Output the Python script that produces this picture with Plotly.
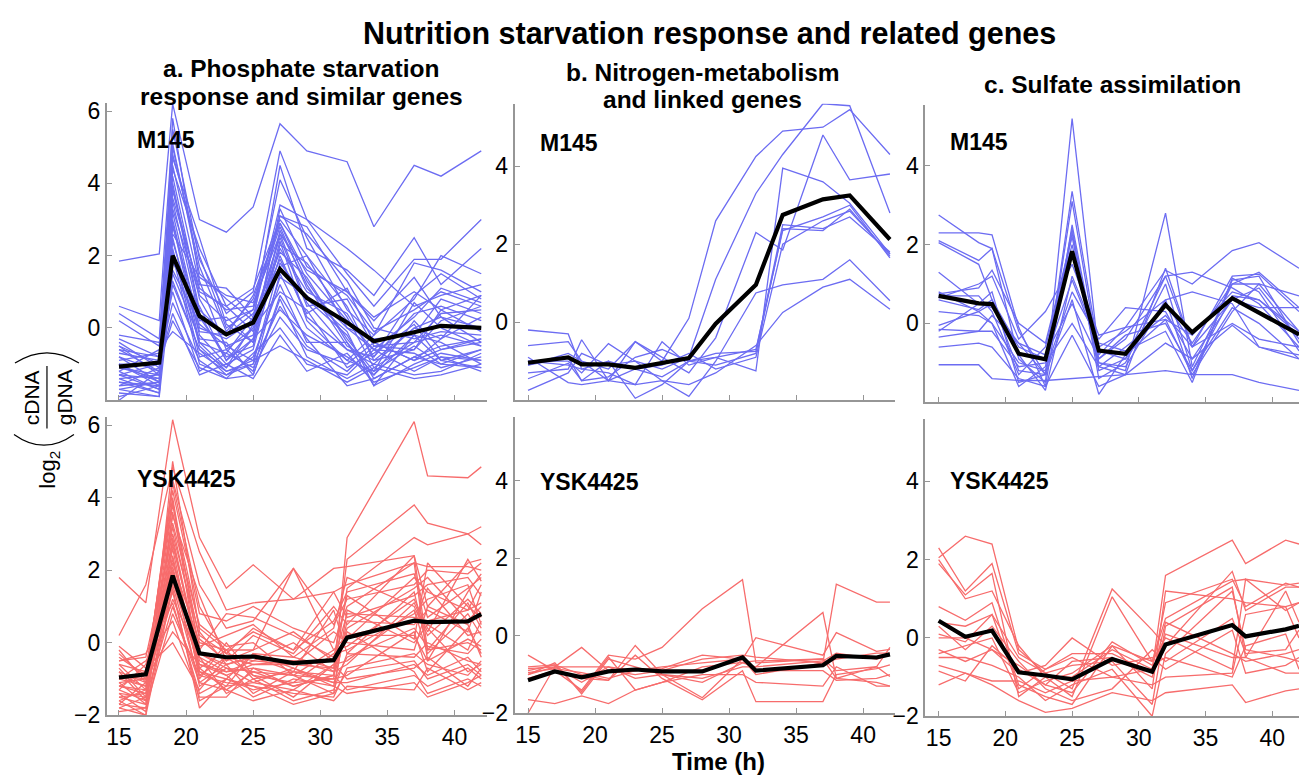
import plotly.graph_objects as go

W, H = 1299, 784

# ---------------- data ----------------
t_M145 = [15, 18, 19, 21, 23, 25, 27, 29, 32, 34, 37, 39, 42]
t_YSK = [15, 17, 19, 21, 23, 25, 28, 31, 32, 37, 38, 41, 42]
x_tick_vals = [15, 20, 25, 30, 35, 40]

# a. Phosphate starvation response - M145
a_M145 = [
    [1.85, 2.05, 6.2, 3.0, 2.65, 3.35, 5.65, 4.9, 4.6, 2.8, 4.5, 4.2, 4.9],
    [0.6, 0.2, 5.5, 1.9, 0.4, 1.0, 4.9, 3.0, 1.5, 0.6, 1.9, 1.9, 3.0],
    [0.4, -0.3, 5.1, 1.5, 0.8, 0.2, 4.5, 2.2, 1.6, 0.9, 2.5, 1.2, 2.2],
    [0.2, -0.5, 4.8, 2.0, 0.0, 0.5, 4.1, 2.5, 0.5, -0.2, 0.8, 2.0, 1.5],
    [-0.3, -0.8, 4.5, 1.2, 1.1, 0.3, 3.4, 3.0, 2.2, 1.6, 0.6, 0.9, 1.2],
    [-0.5, -1.0, 4.2, 0.8, -0.5, -0.2, 3.1, 2.8, 1.0, 0.3, 1.0, 0.5, 0.9],
    [-0.6, -1.2, 4.0, 0.5, -0.2, 0.9, 2.9, 1.5, 0.2, -0.6, 0.3, 1.1, 0.7],
    [-0.8, -1.5, 3.8, 1.0, 0.6, 1.1, 3.0, 2.0, 0.0, -0.3, -0.2, 0.8, 0.4],
    [-1.0, -1.6, 3.5, 0.3, -0.8, -0.5, 2.7, 1.2, -0.5, -0.9, 0.0, -0.3, 0.9],
    [-1.1, -1.3, 3.2, 0.0, -0.3, 0.2, 2.5, 0.6, 0.8, -0.5, -0.6, 0.2, 0.6],
    [-1.2, -1.7, 3.0, -0.2, -1.0, -0.6, 2.3, 1.8, 0.3, -1.1, -0.4, -0.2, -0.5],
    [-1.3, -1.4, 2.8, 0.2, 0.3, -0.4, 2.0, 0.3, -0.6, -0.8, 0.4, 0.6, 0.2],
    [-1.4, -1.8, 2.5, -0.5, -1.2, -1.0, 1.8, 0.8, -0.2, -1.4, -0.8, -0.5, -0.3],
    [-1.5, -1.6, 2.2, -0.8, -0.6, -1.2, 1.5, 0.0, -0.9, -1.2, -0.5, -1.0, -0.6],
    [-1.6, -1.1, 2.0, -1.0, -1.3, -0.8, 1.2, -0.4, -0.4, -1.6, -1.0, -0.7, -0.9],
    [-1.7, -1.5, 1.8, 0.6, -0.9, 0.0, 1.0, 0.5, -1.1, -0.7, 0.1, -0.9, -1.1],
    [-1.8, -1.9, 1.5, -0.3, -0.4, -1.3, 0.8, -0.8, -1.4, -1.0, -1.3, -1.2, -0.7],
    [-2.0, -1.2, 1.2, -0.6, -1.1, -0.3, 0.5, -0.2, -0.8, -1.3, -0.2, -0.4, -1.0],
    [-0.9, -0.7, 1.0, -1.2, -0.7, -1.1, 0.3, -0.6, -1.0, -0.4, -0.9, -0.6, -0.4],
    [-0.7, -0.9, 0.7, -0.9, -1.4, -0.7, 0.0, -1.0, -1.3, -0.6, -0.7, -1.1, -0.8],
    [-1.0, -1.0, 0.4, -1.3, -1.0, -1.4, -0.2, -1.2, -0.7, -1.5, -1.1, -0.8, -1.2],
    [-1.2, -0.6, -0.1, -0.7, -1.2, -0.9, -0.5, -0.9, -1.5, -1.1, -1.4, -1.3, -1.0],
    [-0.4, -1.1, 2.6, 1.4, 0.9, 0.7, 2.6, 1.6, 1.0, 0.2, 1.4, 0.3, 0.0],
    [-1.1, -1.4, 3.3, 0.9, 0.2, 0.5, 3.1, 2.6, 1.3, 0.0, -0.3, -0.1, -0.2],
    [-1.3, -1.7, 4.4, 2.2, 0.6, -0.1, 2.2, 1.0, 0.4, -0.8, 0.9, 1.5, 0.8],
    [-0.8, -1.2, 5.0, 1.7, -0.1, 0.8, 2.9, 1.3, -0.3, -1.2, 0.7, 0.0, -0.5],
    [-1.5, -1.8, 3.9, 0.4, -0.9, -0.3, 2.4, 0.2, -0.9, -0.2, 1.8, 1.6, 1.0],
    [-1.6, -1.5, 2.4, -0.1, -0.2, 0.4, 1.7, 2.0, 0.6, -0.9, -0.6, 0.5, -0.1],
    [-0.6, -0.8, 1.6, 0.1, -0.5, -0.9, 1.4, 0.9, -0.1, -1.6, -0.2, -0.9, -0.6],
    [-1.9, -1.6, 2.9, -0.4, -1.1, 0.1, 1.9, 0.4, 1.1, -0.4, -0.9, -0.3, 0.3],
    [-1.4, -1.3, 3.6, 1.1, 0.5, 0.6, 2.8, 1.1, 0.0, -0.6, -1.2, -0.8, -0.9],
    [-0.2, -0.4, 1.3, -0.6, -1.3, -1.0, 0.6, -0.5, -1.2, -0.5, -0.4, 0.4, 0.5],
    [-1.0, -1.5, 2.1, -0.4, -0.7, 0.3, 2.1, 1.4, -0.4, -1.3, 0.2, -0.6, -0.3],
    [-1.3, -1.0, 0.2, -1.1, -1.4, -1.3, 0.9, -0.3, -1.6, -1.4, -0.8, -1.0, -1.1],
    [-0.5, -1.3, 4.7, 2.5, 0.1, -0.4, 3.3, 1.7, 0.9, -0.1, 0.5, 1.0, 0.6],
    [-1.7, -1.9, 5.8, 1.3, -0.6, 0.0, 2.6, 0.7, -0.6, -1.0, 0.0, 0.3, -0.4],
]
a_M145_mean = [-1.07, -0.96, 2.0, 0.33, -0.18, 0.15, 1.63, 0.83, 0.15, -0.37, -0.12, 0.06, 0.0]

# a. Phosphate starvation response - YSK4425
a_YSK = [
    [-0.9, -1.0, 2.0, -0.6, -0.8, -0.7, -0.9, -1.0, 2.9, 6.1, 4.6, 4.55, 4.85],
    [-0.5, -0.4, 3.0, 0.2, -0.3, -0.5, -0.6, -0.7, 2.3, 3.8, 3.3, 3.0, 2.7],
    [-1.2, -0.8, 4.0, -0.3, -0.6, -0.4, -0.8, -0.9, 1.5, 2.9, 2.7, 3.0, 3.2],
    [1.8, 1.1, 6.15, 2.9, 1.5, 2.15, 1.2, 2.05, 2.1, 2.4, 1.0, 2.2, 2.3],
    [0.2, 1.6, 4.85, 2.5, 0.9, 1.1, 1.2, 1.4, 1.6, 2.2, 2.1, 2.1, 2.0],
    [-0.2, -1.1, 4.5, 1.6, 0.4, 0.6, 2.05, 0.5, 1.2, 1.6, 2.0, 1.9, 2.2],
    [-0.4, -0.9, 4.2, 0.8, 0.6, 1.0, 0.4, 0.0, 1.0, 2.2, -0.5, 1.4, 1.9],
    [-0.6, -1.3, 3.8, 0.4, -0.2, 0.3, -0.2, 1.4, 0.7, 1.3, 1.6, 1.8, 1.3],
    [-0.7, -1.5, 3.5, 1.3, -0.5, -0.2, 0.3, -0.5, 0.1, 1.8, 1.4, 0.9, 1.6],
    [-0.8, -1.6, 3.2, -0.1, 0.2, 0.5, -0.4, 0.4, 1.8, 1.0, 0.2, 1.2, 0.8],
    [-1.0, -1.2, 2.8, -0.5, -0.9, -0.6, -0.5, -0.8, 0.4, 1.5, 1.8, 0.6, 1.0],
    [-1.1, -1.7, 2.6, -1.0, 0.0, -0.9, -1.1, -0.3, -0.2, 0.8, 1.2, 1.6, 0.5],
    [-1.3, -0.6, 2.3, -0.8, -1.2, -0.3, -0.7, -1.2, 0.6, 0.5, 0.9, 0.3, 1.4],
    [-1.4, -1.9, 2.0, -1.2, -0.7, -1.1, -1.3, -0.6, -0.5, 0.9, -0.3, 0.8, 0.2],
    [-1.5, -1.4, 1.7, -0.7, -1.3, -0.8, -0.9, -1.4, 0.9, 0.0, 0.5, -0.2, 0.6],
    [-1.6, -2.0, 1.5, -1.8, -1.0, -1.3, -1.1, -1.0, -0.9, 0.3, -0.8, 0.4, -0.3],
    [-1.7, -1.1, 1.2, -0.4, -1.4, -1.0, -1.6, -1.3, -0.3, -0.4, 0.0, -0.5, -0.6],
    [-1.8, -1.5, 1.0, -1.1, -0.6, -1.4, -0.8, -1.1, -1.1, -0.6, -0.9, -0.4, -0.8],
    [-1.9, -1.8, 0.8, -0.9, -1.1, -1.2, -1.4, -1.5, -0.7, -0.3, -0.6, -0.9, -0.5],
    [-1.0, -0.5, 0.6, -1.5, -1.5, -0.7, -1.2, -0.9, -1.3, -0.9, -1.2, -0.7, -1.0],
    [-0.3, -1.0, 0.3, -0.6, -0.9, -1.5, -1.0, -1.2, -1.4, -1.1, -1.5, -1.1, -0.9],
    [-0.1, -0.7, 0.0, -1.3, -0.4, -0.9, -1.5, -0.6, -1.0, -0.7, -0.4, -1.2, -0.7],
    [-1.2, -1.4, 2.2, 0.0, -0.2, -0.2, 2.05, -0.2, 0.2, 0.6, 1.5, 0.2, 0.3],
    [-0.9, -1.2, 1.9, -0.2, 0.8, 0.7, 0.2, -0.4, 1.3, 0.1, 2.2, 1.0, 0.7],
    [-1.5, -1.7, 3.6, 0.1, -0.5, 0.2, -0.3, 1.0, 0.5, 2.4, -0.2, 0.0, -0.2],
    [-1.6, -1.3, 2.9, -0.4, -0.8, -0.5, 0.0, -0.8, -0.6, 1.1, 0.3, 2.3, 1.7],
    [-0.6, -0.8, 1.4, -1.6, -1.2, -1.1, -0.7, -1.1, -0.4, 0.4, -0.1, -0.3, 0.1],
    [-1.3, -1.6, 2.4, -0.9, -0.4, -0.6, -0.6, 0.3, 0.0, -0.2, 1.0, 0.5, -0.4],
    [-0.5, -0.3, 1.1, -1.4, -1.0, -1.2, -1.7, -1.4, -0.8, -0.5, -1.0, -0.6, -0.9],
    [-1.8, -2.0, 5.0, 0.3, -0.6, -0.4, -0.5, -0.5, 0.8, 0.7, 0.6, 0.9, 1.1],
    [-1.1, -1.0, 3.3, 0.5, -0.1, 0.0, -0.9, -0.2, -0.1, 1.2, 0.4, -0.8, -0.6],
    [-1.4, -1.5, 2.7, -0.3, -0.7, -0.8, -1.2, -0.9, 0.3, -0.8, -1.4, -1.0, -1.2],
    [-0.8, -1.1, 4.4, 1.0, -0.3, 0.4, -0.2, 0.6, 1.4, 1.9, 0.7, 1.5, 1.8],
    [-1.7, -1.8, 1.6, -1.1, -1.3, -1.6, -1.3, -1.6, -1.2, -1.3, -0.7, -1.3, -1.1],
    [-1.0, -0.9, 3.9, -0.8, -1.0, -0.3, -0.4, -0.7, 0.2, 0.2, -0.5, 0.1, -0.1],
    [-1.2, -1.3, 2.1, -0.7, -0.2, -1.0, -0.8, 0.9, -0.3, 1.4, -0.2, 1.1, 0.4],
]
a_YSK_mean = [-0.96, -0.87, 1.85, -0.29, -0.4, -0.38, -0.56, -0.48, 0.14, 0.61, 0.57, 0.59, 0.79]

# b. Nitrogen-metabolism and linked genes
b_M145 = [
    [-1.1, -0.8, -1.0, -1.2, -0.5, -1.0, 0.1, 2.6, 4.25, 4.9, 5.0, 5.45, 4.3],
    [-1.0, -1.0, -1.3, -0.55, -1.0, -1.2, -0.9, 1.1, 3.3, 4.3, 5.6, 5.55, 2.8],
    [-0.6, -0.5, -1.0, -1.5, -0.5, -0.9, -1.3, -0.4, 2.3, 1.85, 4.8, 3.65, 3.8],
    [-0.2, -0.3, -1.2, -1.3, -1.6, -0.5, -1.1, -0.9, -1.25, 3.95, 3.6, 3.05, 1.75],
    [-1.3, -1.2, -0.45, -1.5, -1.2, -1.4, -1.0, -1.1, -0.8, 2.4, 2.35, 2.9, 1.7],
    [-1.45, -1.05, -1.5, -1.0, -1.95, -1.6, -1.0, -0.9, -0.7, 2.35, 2.7, 3.0, 1.65],
    [-1.75, -1.3, -0.8, -1.1, -1.0, -1.5, -1.9, -1.0, 0.75, 0.96, 1.1, 1.6, 0.55],
    [-0.9, -1.55, -1.6, -1.5, -1.6, -1.5, -1.6, -1.3, -0.6, 0.25, 0.9, 1.1, 0.33],
    [-1.1, -0.9, -1.5, -1.4, -0.9, -0.7, -1.0, -0.8, -0.75, 2.5, 2.4, 2.7, 1.8],
    [-1.0, -1.1, -1.2, -1.0, -1.2, -1.1, -0.8, -1.2, -0.9, 2.0, 2.6, 2.85, 1.75],
]
b_M145_mean = [-1.04, -0.9, -1.08, -1.08, -1.17, -1.04, -0.92, -0.04, 0.96, 2.75, 3.15, 3.25, 2.12]

b_YSK = [
    [-0.5, -0.9, -1.4, -0.5, -0.6, -0.3, 0.7, 1.45, -0.7, -0.6, -1.1, -1.2, -1.3],
    [-0.85, -0.8, -0.3, -0.9, -1.0, -0.9, -0.6, -0.5, -0.55, -0.7, 1.33, 0.87, 0.87],
    [-1.0, -0.7, -1.5, -0.6, -0.8, -1.0, -1.2, -0.7, -0.8, 0.6, -1.1, -0.8, -0.3],
    [-0.9, -0.75, -1.0, -1.15, -0.25, -1.0, -1.6, -0.6, -0.05, -0.5, 0.08, -0.4, -0.35],
    [-2.0, -0.8, -1.2, -0.8, -1.1, -1.0, -1.1, -0.8, -0.8, -0.65, -0.45, -0.6, -0.5],
    [-1.65, -1.75, -1.55, -1.75, -1.4, -1.2, -0.8, -0.7, -0.65, -0.6, -0.9, -0.8, -1.05],
    [-1.1, -0.9, -1.1, -1.15, -0.5, -1.1, -1.65, -0.9, -1.7, -1.7, -1.0, -0.85, -0.75],
    [-0.8, -0.75, -1.45, -0.55, -1.4, -1.2, -1.0, -1.0, -1.2, -1.3, -0.8, -1.3, -1.3],
    [-1.0, -0.8, -0.8, -0.8, -0.9, -0.8, -0.7, -0.6, -0.9, -0.9, -1.15, -1.1, -1.0],
    [-0.95, -0.85, -0.95, -1.1, -0.9, -0.85, -0.5, -0.6, -1.0, -0.7, -0.6, -0.45, -0.45],
]
b_YSK_mean = [-1.15, -0.92, -1.07, -0.92, -0.87, -0.92, -0.92, -0.56, -0.9, -0.76, -0.52, -0.56, -0.48]

# c. Sulfate assimilation
c_M145 = [
    [2.75, 2.05, 1.9, -0.2, -1.3, 3.35, -0.7, -0.9, 1.2, -0.6, 1.2, 1.25, 0.3],
    [2.3, 2.3, 2.25, -0.1, -1.6, 2.5, -1.0, -1.1, 0.6, -1.4, 1.1, 1.2, -0.5],
    [2.1, 1.6, 1.9, -0.9, -1.5, 5.2, -0.8, -0.1, 1.35, 1.0, 1.85, 2.05, 1.4],
    [2.05, 1.5, 0.6, -1.2, -1.3, 2.3, -1.0, -1.2, 2.8, -1.1, 1.0, 1.3, 0.4],
    [1.3, 0.5, 0.4, -0.5, -1.3, 3.1, -0.9, -0.4, 1.2, 1.3, 0.9, 0.5, -0.6],
    [0.75, 0.9, 1.35, 0.0, -0.5, 2.2, -1.2, -0.9, 0.5, -0.5, 1.0, 1.0, 0.7],
    [0.65, 1.0, 1.2, -0.4, 0.3, 1.5, -0.3, -0.1, 0.1, -0.3, 0.8, 0.6, -0.3],
    [0.6, 0.35, 0.6, -0.6, -0.9, 1.1, -0.6, -0.2, 0.6, 0.8, 0.5, -0.6, -0.8],
    [-0.05, 0.3, 0.0, -1.0, -1.2, 0.8, -0.4, 0.4, 0.3, -0.9, 0.6, 0.9, -0.4],
    [-0.15, -0.2, 0.2, -0.5, -0.8, 0.5, -0.9, -0.3, 0.0, -1.2, 0.4, 0.0, -0.9],
    [-0.35, -0.2, -0.2, -1.1, -1.0, 0.0, -1.1, -0.6, 0.2, -0.6, 0.0, -0.4, -0.6],
    [-0.6, -0.5, -0.6, -1.4, -1.6, -0.3, -1.6, -1.3, -0.5, -0.9, -0.05, -0.6, -0.9],
    [-1.05, -1.05, -1.4, -1.45, -1.45, -1.4, -1.35, -1.3, -1.2, -1.3, -1.3, -1.5, -1.7],
    [0.7, 0.7, 0.3, -1.3, -0.6, 2.0, -1.1, -1.3, 1.4, -0.6, 0.6, 0.4, 0.4],
    [0.8, 0.3, 0.5, -0.8, -1.7, 1.2, -0.5, -0.7, -0.2, -1.5, 1.15, 0.8, -0.7],
    [-0.2, 0.5, 0.8, -1.5, -1.3, 0.6, -1.8, -0.8, 0.1, -1.3, 0.3, 1.0, -0.2],
    [0.3, 0.2, 0.0, -1.6, -1.1, 2.4, -1.4, -1.0, 1.0, -1.2, 0.7, 0.6, -0.2],
]
c_M145_mean = [0.70, 0.51, 0.49, -0.77, -0.91, 1.83, -0.69, -0.77, 0.47, -0.23, 0.64, 0.28, -0.28]

c_YSK = [
    [2.3, 1.2, 1.9, -0.4, -0.8, -0.5, -1.0, -0.8, 1.6, 2.5, 1.9, 2.5, 2.4],
    [2.05, 2.6, 2.4, -0.3, -0.9, -1.3, 1.25, 0.2, -0.2, 1.7, 0.7, 1.3, 1.3],
    [1.9, 1.1, 1.65, -1.5, -1.0, -1.5, 1.05, -0.6, 0.5, 1.45, 1.5, 1.35, 1.4],
    [0.8, 0.45, 0.9, -1.2, -1.5, -1.7, -0.2, -1.3, 1.2, 1.0, 0.9, 0.8, 0.9],
    [0.4, 0.3, 0.6, -0.5, -0.9, -0.7, -0.6, -1.7, 0.3, 1.3, -0.5, 1.2, 0.4],
    [0.3, -0.3, 0.3, -0.6, -1.3, -1.6, -1.3, -0.3, -0.6, 0.5, -0.4, -0.3, 0.2],
    [0.0, 0.0, -0.3, -0.7, -1.2, -0.6, -0.5, -1.0, 0.4, -0.4, -0.6, -0.4, -0.3],
    [-0.3, -0.6, -0.3, -0.9, -0.7, 0.0, -0.7, -0.5, -0.8, 0.2, -0.9, -0.7, -0.5],
    [-0.4, -0.2, 0.0, -1.4, -1.1, -0.9, -0.2, -0.6, 0.0, -0.8, 1.5, 0.7, 0.9],
    [-0.5, -0.5, -0.7, -1.0, -1.6, -1.2, -0.8, -2.0, -0.4, 1.2, -0.3, -0.5, -0.6],
    [-0.7, -0.9, -1.2, -1.6, -1.9, -1.8, -1.4, -1.6, -1.4, -1.2, -1.65, -1.35, -1.3],
    [-0.85, -1.1, -0.2, -0.8, -1.2, -1.4, -0.1, -0.7, -0.5, -1.0, -0.2, 0.1, -0.8],
    [-1.2, -0.9, -1.1, -1.1, -1.4, -1.1, -1.0, -1.2, -1.0, -0.9, 0.6, 0.8, 0.0],
    [0.1, -0.1, 0.6, -1.3, -0.8, -0.4, -0.4, -0.9, 0.1, -0.5, -0.5, -0.9, -0.9],
    [2.0, 1.0, 1.2, -0.2, -1.0, -1.0, -0.3, -0.8, 0.9, 1.5, 0.8, 1.4, 1.3],
]
c_YSK_mean = [0.44, 0.03, 0.19, -0.88, -0.96, -1.06, -0.54, -0.86, -0.17, 0.33, 0.04, 0.22, 0.31]

# ---------------- styling / layout ----------------
BLUE = "rgb(108,108,242)"
RED = "rgb(247,108,108)"
AXC = "rgb(150,150,150)"
FONT = "Liberation Sans, Arial, Helvetica, sans-serif"


def px(x):
    return x / W


def py(y):
    return 1 - y / H


# panels: (axis suffix, x-domain px, y-domain px(top,bottom), xrange, yrange, yticks, show x labels)
panels = [
    ("", (106, 486), (101, 405), [14.1, 42.4], [-2, 6.23], [0, 2, 4, 6], False),
    ("2", (514, 895), (102, 405), [14.0, 42.4], [-2, 5.6], [0, 2, 4], False),
    ("3", (925, 1299), (103, 407), [14.0, 42.0], [-2, 5.55], [0, 2, 4], False),
    ("4", (106, 486), (422, 727), [14.1, 42.4], [-2, 6.23], [-2, 0, 2, 4, 6], True),
    ("5", (514, 895), (422, 725), [14.0, 42.4], [-2, 5.65], [-2, 0, 2, 4], True),
    ("6", (925, 1299), (424, 728), [14.0, 42.0], [-2, 5.6], [-2, 0, 2, 4], True),
]

series = [
    (a_M145, a_M145_mean, t_M145, BLUE),
    (b_M145, b_M145_mean, t_M145, BLUE),
    (c_M145, c_M145_mean, t_M145, BLUE),
    (a_YSK, a_YSK_mean, t_YSK, RED),
    (b_YSK, b_YSK_mean, t_YSK, RED),
    (c_YSK, c_YSK_mean, t_YSK, RED),
]

fig = go.Figure()
layout_axes = {}
for (suf, xd, yd, xr, yr, yt, showx), (genes, mean, tt, col) in zip(panels, series):
    xa = "x" + suf
    ya = "y" + suf
    for g in genes:
        fig.add_trace(go.Scatter(x=tt, y=g, mode="lines", xaxis=xa, yaxis=ya,
                                 line=dict(color=col, width=1.3), showlegend=False,
                                 hoverinfo="skip"))
    fig.add_trace(go.Scatter(x=tt, y=mean, mode="lines", xaxis=xa, yaxis=ya,
                             line=dict(color="black", width=4.2), showlegend=False,
                             hoverinfo="skip"))
    layout_axes["xaxis" + suf] = dict(
        domain=[px(xd[0]), px(xd[1])], range=xr, anchor=ya,
        showline=True, linecolor=AXC, linewidth=2, mirror=False,
        ticks="inside", ticklen=5, tickwidth=1, tickcolor=AXC,
        tickvals=x_tick_vals, showticklabels=showx, showgrid=False, zeroline=False,
        tickfont=dict(size=23, color="black", family=FONT),
    )
    layout_axes["yaxis" + suf] = dict(
        domain=[py(yd[1]), py(yd[0])], range=yr, anchor=xa,
        showline=True, linecolor=AXC, linewidth=2, mirror=False,
        ticks="inside", ticklen=5, tickwidth=1, tickcolor=AXC,
        tickvals=yt, showgrid=False, zeroline=False,
        tickfont=dict(size=23, color="black", family=FONT),
    )

annotations = []


def txt(s, x, y, size, bold=True, xanchor="center", angle=0):
    annotations.append(dict(
        text=("<b>%s</b>" % s) if bold else s, x=px(x), y=py(y), xref="paper", yref="paper",
        xanchor=xanchor, yanchor="middle", showarrow=False, textangle=angle,
        font=dict(size=size, color="black", family=FONT)))


txt("Nutrition starvation response and related genes", 709, 30, 30.5)
txt("a. Phosphate starvation", 300, 66, 24.5)
txt("response and similar genes", 301, 95, 24.5)
txt("b. Nitrogen-metabolism", 703, 70, 24.5)
txt("and linked genes", 702, 98, 24.5)
txt("c. Sulfate assimilation", 1112, 82, 24.5)

txt("M145", 134, 139, 23, xanchor="left")
txt("M145", 537, 142, 23, xanchor="left")
txt("M145", 948, 141, 23, xanchor="left")
txt("YSK4425", 134, 486, 23, xanchor="left")
txt("YSK4425", 537, 489, 23, xanchor="left")
txt("YSK4425", 948, 488, 23, xanchor="left")

txt("Time (h)", 718, 774, 24)

# y-axis label: log2 ( cDNA / gDNA )
txt("log<sub>2</sub>", 48, 476, 22, bold=False, angle=-90)
txt("cDNA", 30, 402, 21, bold=False, angle=-90)
txt("gDNA", 63, 402, 21, bold=False, angle=-90)

shapes = [
    dict(type="line", xref="paper", yref="paper", x0=px(46), x1=px(46), y0=py(370), y1=py(434),
         line=dict(color="black", width=1.2)),
    dict(type="path", xref="paper", yref="paper",
         path="M %f,%f Q %f,%f %f,%f" % (px(14), py(367), px(46), py(346), px(78), py(367)),
         line=dict(color="black", width=1.2)),
    dict(type="path", xref="paper", yref="paper",
         path="M %f,%f Q %f,%f %f,%f" % (px(13), py(440), px(43), py(462), px(73), py(440)),
         line=dict(color="black", width=1.2)),
]

fig.update_layout(
    width=W, height=H, margin=dict(l=0, r=0, t=0, b=0), autosize=False,
    paper_bgcolor="white", plot_bgcolor="white",
    annotations=annotations, shapes=shapes, **layout_axes,
)

page_fix = (
    "var s=document.createElement('style');"
    "s.textContent='html,body{margin:0;padding:0;width:%dpx;height:%dpx;overflow:hidden;}"
    "body>div{display:block;width:%dpx;height:%dpx;overflow:hidden;}';"
    "document.head.appendChild(s);" % (W, H, W, H)
)

fig.write_html(
    "out.html",
    config={"displayModeBar": False, "responsive": False},
    default_width="%dpx" % W, default_height="%dpx" % H,
    post_script=page_fix,
)
